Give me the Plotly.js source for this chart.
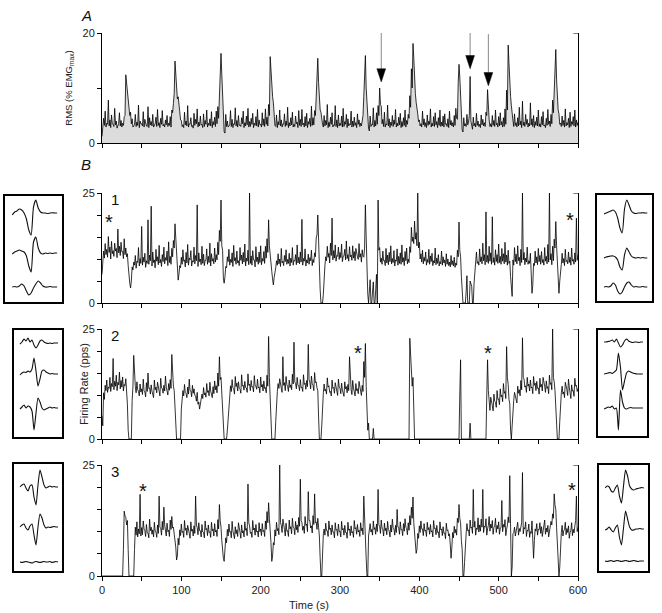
<!DOCTYPE html>
<html>
<head>
<meta charset="utf-8">
<script src="https://cdn.plot.ly/plotly-3.0.1.min.js"></script>
<style>
  html, body { margin: 0; padding: 0; background: #fff; }
  #chart { width: 662px; height: 613px; }
</style>
</head>
<body>
<div id="chart"></div>
<script>
// Each trace is read off the picture as two samples per 2 s bin:
// "...A" at the even second (t = 0, 2, ... 600), "...B" at the odd one (t = 1, 3, ... 599)
const dt = 2;

// A: RMS EMG (% EMGmax)
const rmsA = [
  1.2, 4.5, 5.8, 3.6, 7.8, 4.2, 5.1, 3.4, 6.3, 4.0, 3.2, 5.5, 4.1, 3.6, 4.8, 12.4, 9.8, 7.5, 5.6, 4.4, 3.1, 5.2, 3.8, 6.9, 4.0,
  3.5, 5.7, 4.3, 3.1, 6.6, 4.6, 3.9, 5.2, 3.3, 4.7, 6.1, 3.7, 4.5, 5.9, 3.4, 4.2, 5.0, 3.6, 4.8, 6.0, 7.2, 14.9, 10.3, 8.4, 5.7,
  4.1, 3.3, 5.6, 4.0, 6.8, 3.5, 4.6, 3.2, 5.4, 4.3, 6.2, 3.8, 4.9, 3.4, 5.3, 4.1, 6.0, 3.6, 4.4, 5.7, 3.9, 4.7, 5.8, 6.6, 9.0,
  16.3, 8.8, 2.0, 5.2, 4.0, 3.2, 5.9, 4.3, 3.5, 6.4, 4.1, 5.0, 3.3, 4.6, 5.8, 3.7, 4.9, 6.3, 3.9, 4.5, 5.4, 3.6, 4.8, 6.1, 4.2,
  3.4, 5.5, 4.4, 6.2, 4.7, 7.0, 15.7, 9.8, 7.3, 3.2, 5.1, 3.9, 6.0, 4.2, 3.5, 5.3, 4.0, 6.5, 3.7, 4.6, 5.6, 3.4, 4.9, 3.8, 5.9,
  4.3, 6.1, 3.6, 4.8, 5.4, 3.9, 4.5, 6.7, 4.6, 5.9, 9.4, 15.4, 8.2, 5.6, 3.4, 5.0, 4.1, 7.0, 3.8, 4.7, 5.5, 3.3, 6.8, 4.2, 5.1,
  3.6, 4.9, 6.3, 3.9, 5.2, 4.4, 3.5, 5.8, 4.0, 4.7, 3.7, 5.3, 4.2, 3.6, 4.8, 8.5, 15.9, 7.2, 2.6, 4.9, 3.4, 6.4, 4.1, 5.5, 6.8,
  10.0, 6.7, 4.3, 5.6, 3.5, 6.9, 4.4, 3.8, 5.0, 4.2, 6.1, 3.6, 4.7, 5.4, 3.9, 4.6, 6.0, 4.1, 5.2, 8.6, 13.5, 18.1, 11.0, 7.4, 5.3,
  4.2, 3.5, 5.8, 4.4, 3.7, 5.1, 4.0, 6.2, 3.6, 4.8, 5.5, 3.9, 4.6, 6.0, 3.8, 4.9, 5.3, 3.5, 4.4, 5.8, 4.1, 3.7, 5.0, 6.3, 4.3,
  14.3, 8.9, 2.4, 4.6, 3.5, 5.2, 3.8, 12.1, 3.2, 4.7, 3.6, 5.4, 4.0, 3.4, 5.1, 4.3, 3.7, 5.6, 9.7, 4.2, 3.5, 5.0, 4.1, 6.0, 3.6,
  4.8, 5.5, 3.9, 4.6, 6.2, 9.6, 17.8, 10.4, 6.8, 4.1, 5.3, 3.7, 4.6, 6.5, 4.0, 7.6, 3.8, 5.2, 4.3, 3.6, 7.3, 4.4, 5.0, 3.9, 4.7,
  6.0, 3.5, 4.8, 5.7, 3.3, 4.5, 6.1, 4.0, 5.2, 7.8, 11.0, 17.0, 8.4, 5.3, 3.6, 4.9, 4.1, 6.2, 3.7, 4.5, 5.6, 3.9, 4.8, 6.0, 4.2,
  3.8
];
const rmsB = [
  3.0, 3.2, 2.9, 3.4, 3.1, 2.8, 3.5, 3.0, 3.3, 2.7, 3.6, 3.1, 2.9, 3.2, 5.0, 11.0, 7.8, 5.0, 3.5, 2.9, 3.4, 3.0, 3.2, 2.8, 3.5,
  3.1, 2.9, 3.4, 3.0, 2.8, 3.3, 3.1, 2.9, 3.5, 3.0, 3.2, 2.8, 3.4, 3.1, 2.9, 3.3, 3.0, 3.2, 2.9, 5.5, 9.0, 12.5, 8.0, 6.0, 4.2,
  3.0, 2.8, 3.3, 3.1, 2.9, 3.4, 3.0, 2.7, 3.2, 3.5, 2.9, 3.1, 3.3, 2.8, 3.0, 3.4, 2.9, 3.2, 3.1, 2.8, 3.3, 3.0, 3.5, 4.5, 12.0,
  12.5, 4.5, 1.8, 3.0, 2.9, 3.3, 3.0, 2.8, 3.4, 3.1, 2.9, 3.2, 3.0, 3.5, 2.8, 3.1, 3.3, 2.9, 3.0, 3.4, 2.8, 3.2, 3.1, 2.9, 3.3,
  2.9, 3.2, 3.0, 3.4, 3.1, 5.0, 12.5, 8.5, 4.5, 3.0, 2.8, 3.3, 3.1, 2.9, 3.4, 3.0, 3.2, 2.8, 3.1, 3.3, 2.9, 3.0, 3.5, 2.8, 3.2,
  3.0, 3.3, 2.9, 3.1, 2.8, 3.4, 3.0, 3.2, 3.3, 5.0, 12.0, 11.0, 6.0, 3.8, 2.9, 3.1, 3.3, 2.8, 3.0, 3.4, 2.9, 3.2, 3.0, 2.8, 3.1,
  3.2, 2.9, 3.0, 3.4, 2.8, 3.1, 3.3, 2.9, 3.0, 3.2, 2.8, 3.4, 3.0, 3.1, 5.0, 12.5, 10.0, 4.0, 2.2, 3.0, 3.3, 2.9, 3.1, 3.4, 5.0,
  7.0, 3.5, 3.0, 2.9, 3.3, 3.1, 2.8, 3.2, 3.0, 3.4, 2.9, 3.1, 3.3, 2.8, 3.0, 3.2, 2.9, 3.4, 4.5, 6.5, 10.0, 15.5, 9.0, 5.5, 3.9,
  3.1, 2.9, 3.3, 3.0, 2.8, 3.2, 3.4, 2.9, 3.1, 3.0, 3.3, 2.8, 3.2, 3.0, 3.1, 2.9, 3.4, 3.0, 2.8, 3.3, 3.1, 2.9, 3.2, 4.5, 11.0,
  12.0, 4.0, 2.0, 3.1, 3.0, 3.3, 5.0, 4.0, 2.5, 3.1, 2.9, 3.2, 3.0, 2.8, 3.3, 3.1, 3.0, 5.0, 5.5, 3.0, 2.9, 3.2, 3.0, 3.3, 2.9,
  3.1, 3.3, 2.9, 3.0, 3.4, 6.0, 14.5, 8.5, 4.8, 3.0, 3.2, 2.9, 3.1, 3.3, 2.8, 3.2, 3.0, 3.4, 2.9, 3.1, 3.3, 3.0, 2.8, 3.2, 3.1,
  3.0, 2.9, 3.3, 3.1, 2.8, 3.2, 3.4, 3.0, 3.5, 5.5, 14.0, 11.5, 6.0, 3.4, 3.0, 3.2, 2.9, 3.1, 3.3, 2.8, 3.0, 3.4, 3.1, 2.9, 3.2
];

// B: firing rates (pps) of units 1-3
const rate1A = [
  6.5, 11.8, 13.5, 12.2, 15.1, 12.7, 14.0, 11.9, 13.6, 12.4, 16.8, 12.9, 13.8, 11.7, 14.6, 12.5, 11.2, 6.0, 3.4, 8.2, 9.3, 10.8, 9.5, 12.6, 10.1,
  17.4, 10.4, 11.3, 9.6, 18.9, 10.9, 22.0, 11.6, 9.8, 12.2, 10.5, 13.1, 9.9, 11.0, 12.7, 10.3, 11.8, 13.9, 10.6, 12.4, 14.2, 18.0, 9.7, 5.2, 8.5,
  10.4, 12.1, 9.8, 11.5, 13.3, 10.2, 11.9, 9.6, 12.7, 10.8, 22.3, 11.4, 10.0, 12.9, 11.1, 9.7, 12.3, 10.6, 13.6, 11.2, 10.1, 12.5, 11.0, 13.8, 16.5,
  23.4, 12.0, 4.5, 8.3, 10.5, 12.2, 9.9, 11.4, 13.1, 10.3, 11.8, 9.6, 12.6, 10.9, 11.5, 13.4, 10.2, 12.0, 25.0, 10.7, 11.9, 9.8, 12.8, 10.4, 11.6,
  13.0, 10.1, 11.7, 12.9, 14.6, 18.9, 11.5, 7.2, 4.1, 7.9, 9.6, 11.2, 10.0, 12.4, 9.5, 10.8, 12.1, 9.9, 11.3, 10.2, 12.6, 9.7, 11.0, 13.2, 10.4,
  11.6, 19.0, 10.1, 12.3, 9.8, 11.1, 10.3, 12.0, 9.9, 11.4, 14.8, 20.0, 8.0, 0, 0, 6.8, 10.5, 12.9, 11.3, 13.6, 19.3, 11.9, 13.2, 10.8, 12.7,
  11.5, 13.4, 10.6, 12.2, 14.1, 11.0, 12.8, 10.9, 13.0, 11.7, 12.4, 10.5, 13.5, 11.2, 12.1, 10.4, 22.3, 6.0, 0, 5.3, 0, 4.8, 0, 6.5, 23.4,
  12.6, 10.2, 11.8, 9.7, 12.4, 10.9, 11.5, 13.0, 10.1, 11.9, 9.8, 12.3, 10.6, 11.4, 13.2, 10.3, 11.7, 12.5, 10.0, 12.8, 17.2, 15.0, 18.6, 16.0, 25.0,
  13.8, 11.2, 12.0, 10.4, 11.6, 9.9, 12.2, 10.7, 11.3, 9.6, 12.5, 10.2, 11.0, 9.4, 11.8, 10.5, 9.8, 11.2, 10.0, 9.3, 10.8, 9.6, 10.4, 9.1, 12.0,
  18.4, 10.5, 3.0, 0, 0, 6.2, 0, 5.0, 3.8, 0, 7.5, 11.6, 9.4, 12.3, 10.5, 13.6, 11.0, 20.7, 10.8, 12.9, 11.4, 19.6, 10.3, 12.1, 11.0,
  13.4, 10.6, 12.4, 11.2, 13.8, 10.9, 12.0, 9.5, 3.0, 9.8, 12.6, 11.1, 13.0, 10.4, 12.2, 25.0, 11.5, 10.2, 12.7, 9.6, 11.3, 2.2, 9.0, 11.8, 10.5,
  12.4, 10.8, 11.7, 9.9, 12.6, 10.6, 13.3, 25.0, 11.2, 12.9, 14.5, 18.5, 8.0, 2.2, 8.6, 11.3, 10.1, 12.2, 9.7, 11.6, 10.4, 12.5, 9.9, 11.4, 19.3,
  11.0
];
const rate1B = [
  9.5, 10.2, 11.0, 10.4, 11.5, 10.0, 11.2, 10.6, 11.8, 10.3, 11.4, 10.8, 11.6, 10.1, 11.0, 10.5, 8.5, 4.5, 5.0, 7.5, 8.6, 7.9, 9.2, 8.4, 9.0,
  8.6, 9.3, 8.1, 9.0, 8.8, 9.6, 8.4, 9.2, 8.0, 9.5, 8.7, 9.1, 8.3, 9.4, 8.9, 9.7, 8.5, 9.2, 8.8, 10.5, 12.5, 14.0, 6.0, 6.5, 8.0,
  8.8, 9.5, 8.2, 9.1, 8.6, 9.8, 8.4, 9.3, 8.9, 9.6, 8.3, 9.4, 8.7, 9.0, 8.5, 9.7, 8.8, 9.2, 8.4, 9.5, 8.9, 9.3, 9.8, 11.0, 14.0,
  13.0, 5.5, 6.0, 8.0, 9.4, 8.6, 9.2, 8.3, 9.6, 8.8, 9.1, 8.5, 9.7, 8.9, 9.3, 8.4, 9.5, 8.7, 9.0, 8.6, 9.8, 8.2, 9.4, 8.8, 9.2,
  8.7, 9.5, 9.0, 10.2, 11.5, 13.0, 9.5, 5.5, 5.8, 8.0, 8.6, 8.9, 8.3, 9.1, 8.5, 9.4, 8.8, 9.0, 8.4, 9.2, 8.6, 9.5, 8.7, 9.1, 8.9,
  9.3, 8.6, 9.5, 8.4, 9.1, 8.8, 9.6, 8.5, 9.2, 10.5, 15.5, 12.0, 3.0, 0, 2.0, 8.5, 9.6, 10.4, 9.1, 10.8, 9.8, 10.2, 9.5, 10.6, 9.9,
  10.3, 9.4, 10.7, 9.8, 10.1, 9.5, 10.5, 9.7, 10.2, 9.6, 10.8, 9.9, 10.4, 9.3, 10.6, 12.5, 15.0, 2.0, 3.5, 0, 2.5, 0, 3.0, 0, 12.0,
  9.3, 8.8, 9.6, 8.5, 9.1, 8.7, 9.4, 8.9, 9.2, 8.4, 9.5, 8.6, 9.0, 8.8, 9.3, 8.5, 9.6, 8.9, 9.2, 11.5, 14.0, 13.5, 14.5, 13.0, 12.5,
  10.0, 9.3, 8.9, 9.5, 8.6, 9.2, 8.8, 9.4, 8.5, 9.1, 8.7, 9.0, 8.4, 8.9, 8.6, 9.1, 8.3, 8.8, 8.5, 8.2, 8.7, 8.4, 8.1, 8.6, 10.5,
  12.0, 6.0, 0, 0, 2.5, 0, 0, 4.0, 0, 4.5, 8.5, 9.0, 8.6, 9.4, 8.9, 9.6, 8.7, 9.3, 9.0, 9.5, 8.8, 9.2, 8.6, 9.4, 9.0,
  9.2, 8.8, 9.5, 8.9, 9.3, 8.6, 9.0, 6.0, 1.5, 8.6, 9.4, 8.9, 9.6, 8.5, 9.2, 9.8, 8.7, 9.3, 8.8, 9.0, 5.0, 4.0, 8.5, 9.1, 8.7,
  9.4, 8.8, 9.2, 8.6, 9.5, 8.9, 9.3, 9.8, 8.7, 9.6, 12.5, 13.0, 3.5, 5.0, 8.8, 9.1, 8.5, 9.4, 8.9, 9.2, 8.6, 9.5, 8.8, 9.3, 9.7
];
const rate2A = [
  5.3, 10.5, 12.2, 13.4, 11.8, 14.0, 12.6, 18.3, 13.1, 14.5, 12.9, 15.2, 13.3, 14.1, 12.4, 13.7, 8.0, 0, 0, 8.8, 19.0, 11.9, 13.0, 10.8, 12.5,
  11.4, 13.6, 10.7, 12.8, 15.0, 11.6, 12.3, 10.2, 13.4, 11.8, 12.9, 10.9, 13.8, 11.5, 12.2, 14.3, 11.1, 12.6, 13.5, 19.2, 12.0, 7.5, 0, 0, 0,
  6.8, 11.0, 12.4, 10.3, 11.8, 13.6, 10.9, 12.2, 11.4, 9.8, 10.6, 8.4, 7.7, 10.2, 11.7, 10.5, 12.6, 11.0, 12.9, 10.4, 11.9, 13.2, 12.1, 15.0, 18.7,
  14.0, 6.0, 0, 0, 2.0, 8.7, 12.1, 13.5, 11.4, 14.2, 12.7, 13.0, 11.3, 14.6, 12.2, 13.1, 11.6, 14.8, 12.5, 13.3, 11.9, 14.4, 12.0, 13.6, 11.8,
  14.1, 12.4, 13.2, 11.7, 14.5, 23.3, 10.0, 0, 0, 0, 9.5, 12.6, 13.7, 11.5, 18.7, 12.8, 14.2, 11.9, 13.4, 12.3, 14.7, 22.0, 12.6, 14.0, 12.1,
  13.5, 11.8, 14.6, 12.7, 13.3, 21.5, 12.9, 14.3, 12.2, 15.1, 13.0, 11.0, 0, 0, 8.0, 12.5, 11.3, 13.9, 12.1, 10.8, 13.4, 11.7, 12.8, 10.9, 13.6,
  11.5, 12.7, 10.6, 13.0, 11.9, 12.4, 18.7, 11.2, 13.3, 10.8, 12.6, 11.4, 13.1, 10.9, 12.2, 17.6, 21.7, 6.0, 3.6, 0, 0, 2.4, 0, 0, 0,
  0, 0, 0, 0, 0, 0, 0, 0, 0, 0, 0, 0, 0, 0, 0, 0, 0, 0, 0, 22.9, 16.8, 14.0, 0, 0, 0,
  0, 0, 0, 0, 0, 0, 0, 0, 0, 0, 0, 0, 0, 0, 0, 0, 0, 0, 0, 0, 0, 0, 0, 0, 0,
  0, 18.0, 0, 0, 0, 0, 0, 3.6, 0, 0, 0, 0, 0, 0, 0, 0, 0, 0, 18.0, 8.0, 9.5, 7.6, 10.2, 8.3, 11.0,
  9.1, 11.4, 10.0, 12.6, 10.8, 21.0, 12.4, 8.0, 0, 7.5, 10.6, 9.4, 12.0, 11.2, 13.3, 23.0, 13.6, 12.1, 14.0, 12.5, 13.4, 11.8, 14.2, 12.7, 13.1,
  11.6, 13.8, 12.4, 14.0, 12.0, 13.2, 11.9, 14.5, 12.8, 25.0, 13.0, 8.0, 0, 0, 9.8, 12.0, 10.7, 12.9, 11.2, 13.6, 10.5, 12.3, 11.0, 13.8, 12.2,
  11.5
];
const rate2B = [
  3.0, 9.0, 11.0, 10.6, 11.5, 10.8, 11.9, 11.2, 12.0, 11.0, 12.3, 11.4, 11.8, 10.9, 12.1, 11.0, 2.0, 0, 0, 12.0, 13.5, 10.5, 11.2, 9.8, 10.7,
  10.1, 11.0, 9.6, 10.8, 11.5, 10.2, 10.9, 9.4, 11.2, 10.5, 11.0, 9.8, 11.6, 10.4, 10.9, 11.8, 10.0, 11.1, 11.5, 13.5, 11.0, 3.0, 0, 0, 0,
  9.0, 9.8, 10.5, 9.4, 10.2, 11.0, 9.6, 10.4, 9.9, 8.6, 7.9, 6.8, 8.5, 9.2, 10.0, 9.5, 10.6, 9.8, 10.9, 9.4, 10.3, 11.2, 10.5, 12.0, 13.5,
  10.0, 2.0, 0, 0, 5.0, 10.5, 10.8, 11.6, 10.2, 11.9, 10.9, 11.5, 10.4, 12.0, 11.1, 11.7, 10.6, 12.2, 11.0, 11.8, 10.7, 12.1, 11.3, 11.6, 10.5,
  11.8, 10.9, 11.5, 10.5, 12.0, 14.0, 4.0, 0, 0, 4.0, 10.8, 11.5, 11.9, 10.6, 12.2, 11.0, 12.4, 10.8, 11.7, 11.2, 12.5, 13.0, 11.4, 12.2, 11.0,
  11.7, 10.8, 12.4, 11.3, 11.9, 13.5, 11.4, 12.6, 11.0, 12.8, 11.6, 5.0, 0, 3.0, 10.5, 10.9, 10.2, 11.8, 10.6, 9.8, 11.5, 10.4, 11.1, 9.9, 11.8,
  10.3, 11.2, 9.7, 11.4, 10.5, 11.0, 12.5, 10.1, 11.6, 9.8, 11.0, 10.3, 11.5, 9.9, 10.8, 14.0, 12.0, 2.0, 0, 0, 0, 0, 0, 0, 0,
  0, 0, 0, 0, 0, 0, 0, 0, 0, 0, 0, 0, 0, 0, 0, 0, 0, 0, 0, 18.0, 12.0, 5.0, 0, 0, 0,
  0, 0, 0, 0, 0, 0, 0, 0, 0, 0, 0, 0, 0, 0, 0, 0, 0, 0, 0, 0, 0, 0, 0, 0, 0,
  10.0, 0, 0, 0, 0, 0, 0, 0, 0, 0, 0, 0, 0, 0, 0, 0, 0, 10.0, 11.0, 6.5, 7.8, 6.4, 8.6, 7.2, 9.0,
  7.8, 9.6, 8.5, 10.4, 9.2, 14.0, 9.0, 2.0, 3.0, 8.8, 9.6, 8.2, 10.4, 9.8, 11.2, 14.0, 11.8, 10.6, 12.0, 10.9, 11.6, 10.3, 12.2, 11.0, 11.5,
  10.2, 11.8, 10.9, 12.1, 10.6, 11.5, 10.3, 12.4, 11.2, 14.0, 11.0, 3.0, 0, 4.0, 10.5, 10.2, 9.4, 11.3, 9.9, 11.8, 9.2, 10.9, 9.7, 12.0, 10.8
];
const rate3A = [
  0, 0, 0, 0, 0, 0, 0, 0, 0, 0, 0, 0, 0, 0, 14.6, 13.2, 12.5, 0, 0, 0, 0, 11.0, 12.2, 10.6, 18.4,
  10.9, 12.4, 10.2, 11.6, 9.7, 12.8, 11.0, 10.4, 12.1, 9.9, 11.5, 18.0, 10.8, 12.3, 15.5, 10.6, 11.9, 10.3, 12.6, 13.4, 11.0, 9.2, 3.6, 8.5, 10.4,
  11.7, 10.1, 12.5, 10.8, 11.4, 9.6, 12.2, 10.5, 11.3, 18.0, 10.9, 12.0, 10.2, 11.6, 9.8, 12.4, 10.7, 11.5, 10.0, 12.1, 10.6, 11.8, 10.3, 12.7, 16.1,
  11.0, 5.5, 3.3, 8.6, 10.5, 11.7, 10.0, 12.3, 9.6, 11.1, 10.4, 12.0, 9.8, 11.5, 10.2, 12.2, 10.7, 20.7, 11.3, 9.9, 12.5, 10.8, 11.6, 10.1, 12.0,
  10.6, 11.8, 10.3, 12.4, 14.5, 16.5, 11.0, 3.3, 7.5, 10.4, 12.1, 10.7, 25.0, 11.4, 12.8, 10.5, 11.9, 10.2, 12.6, 11.1, 13.0, 10.8, 12.3, 11.5, 13.2,
  21.8, 12.0, 11.2, 13.4, 11.7, 19.0, 12.5, 11.3, 13.6, 18.5, 12.2, 13.0, 9.0, 0, 8.2, 10.6, 11.9, 10.2, 12.4, 10.8, 11.5, 9.9, 12.0, 10.5, 11.7,
  10.1, 12.3, 10.7, 11.4, 9.8, 12.1, 10.6, 11.3, 10.0, 12.5, 10.9, 11.6, 10.3, 12.0, 10.8, 18.0, 9.5, 0, 9.0, 11.8, 10.5, 12.4, 10.9, 11.7, 19.5,
  11.2, 12.6, 10.4, 11.9, 10.8, 12.3, 10.1, 11.5, 12.8, 10.6, 11.4, 15.0, 10.9, 12.2, 10.5, 11.8, 12.9, 10.7, 12.0, 13.6, 15.5, 17.8, 9.0, 5.1, 9.6,
  11.3, 12.4, 10.6, 11.8, 10.3, 12.1, 10.9, 11.6, 10.2, 12.5, 10.8, 11.4, 9.9, 12.2, 10.6, 11.1, 9.7, 11.9, 10.4, 9.5, 4.0, 9.8, 11.2, 10.5, 13.0,
  16.1, 12.0, 6.0, 0, 7.5, 11.8, 10.4, 12.6, 11.0, 19.5, 12.3, 10.8, 13.1, 11.5, 12.8, 19.5, 11.2, 12.9, 10.6, 13.4, 11.7, 12.5, 10.9, 13.0, 11.4,
  12.2, 10.8, 17.0, 11.6, 12.7, 10.5, 13.3, 22.6, 0, 9.5, 11.0, 10.4, 12.1, 10.7, 11.5, 23.3, 10.9, 12.2, 10.3, 11.7, 10.0, 12.4, 4.0, 10.6, 11.8,
  10.5, 12.0, 11.1, 10.2, 12.6, 10.8, 11.4, 10.1, 12.3, 14.0, 18.5, 15.0, 8.0, 0, 9.0, 11.4, 10.2, 12.1, 10.7, 11.3, 9.8, 12.0, 10.5, 11.2, 18.0,
  11.0
];
const rate3B = [
  0, 0, 0, 0, 0, 0, 0, 0, 0, 0, 0, 0, 0, 6.0, 13.5, 11.5, 6.0, 0, 0, 0, 6.0, 9.2, 8.8, 9.5, 9.0,
  9.3, 10.6, 8.9, 9.8, 8.6, 10.2, 9.4, 8.8, 10.1, 8.7, 9.6, 11.0, 9.2, 10.4, 11.5, 9.0, 10.0, 8.9, 10.5, 10.8, 9.4, 6.5, 4.5, 7.0, 9.1,
  9.8, 8.7, 10.3, 9.2, 9.7, 8.5, 10.1, 9.0, 9.6, 11.5, 9.3, 10.2, 8.8, 9.9, 8.6, 10.4, 9.1, 9.8, 8.7, 10.2, 9.0, 9.9, 8.9, 10.6, 12.5,
  8.0, 4.0, 5.5, 7.5, 9.0, 9.9, 8.6, 10.2, 8.4, 9.5, 8.9, 10.1, 8.5, 9.7, 8.8, 10.3, 9.1, 12.0, 9.6, 8.7, 10.4, 9.2, 9.9, 8.8, 10.0,
  9.1, 10.0, 8.9, 10.5, 12.0, 13.0, 7.5, 4.5, 7.0, 9.0, 10.2, 9.3, 12.0, 9.8, 10.9, 9.0, 10.1, 8.9, 10.6, 9.5, 11.0, 9.3, 10.4, 9.8, 11.2,
  12.5, 10.3, 9.6, 11.4, 10.0, 12.5, 10.8, 9.7, 11.6, 12.0, 10.5, 11.0, 4.0, 0, 9.5, 9.2, 10.2, 8.9, 10.5, 9.3, 9.9, 8.6, 10.3, 9.1, 10.0,
  8.8, 10.4, 9.2, 9.8, 8.5, 10.3, 9.1, 9.7, 8.7, 10.6, 9.4, 9.9, 8.9, 10.2, 9.3, 11.5, 4.0, 0, 10.0, 9.9, 9.2, 10.5, 9.4, 10.0, 11.5,
  9.6, 10.8, 9.0, 10.2, 9.3, 10.5, 8.8, 9.9, 10.9, 9.2, 9.8, 11.0, 9.4, 10.4, 9.1, 10.1, 11.0, 9.3, 10.3, 11.5, 13.0, 12.0, 6.0, 6.0, 8.5,
  9.8, 10.6, 9.1, 10.1, 8.9, 10.4, 9.4, 9.9, 8.8, 10.7, 9.3, 9.8, 8.6, 10.4, 9.1, 9.6, 8.4, 10.2, 9.0, 7.0, 6.5, 8.6, 9.7, 9.2, 12.0,
  13.0, 8.0, 0, 3.0, 9.5, 10.2, 9.0, 10.8, 9.6, 11.0, 9.2, 10.5, 9.9, 10.1, 11.0, 9.8, 11.0, 9.2, 11.4, 10.1, 10.8, 9.4, 11.2, 9.8, 10.6,
  9.4, 10.9, 10.0, 11.0, 9.1, 11.4, 12.0, 5.0, 2.0, 9.8, 9.0, 10.5, 9.2, 10.0, 12.0, 9.5, 10.6, 8.9, 10.1, 8.7, 9.6, 5.5, 8.0, 10.1, 9.2,
  10.4, 9.6, 8.9, 10.8, 9.4, 9.9, 8.8, 10.5, 11.5, 13.0, 16.0, 11.0, 3.0, 2.0, 9.8, 9.0, 10.4, 9.3, 9.8, 8.5, 10.3, 9.1, 9.7, 12.5, 10.0
];

// arrows in panel A
const arrowT = [352, 464, 487];
const arrowTop = [20.5, 23.5, 19.8];
const arrowTip = [11.1, 13.5, 10.4];

// unit numbers and asterisks in panel B
const unitLabels = ['1', '2', '3'];
const starT = [[9, 590], [323, 487], [52, 592]];
const starV = [[19.5, 20.0], [20.7, 20.7], [20.2, 20.5]];

const xTicks = [0, 50, 100, 150, 200, 250, 300, 350, 400, 450, 500, 550, 600];
const xTickText = ['0', '', '100', '', '200', '', '300', '', '400', '', '500', '', '600'];

// spike waveforms (start / end of recording), 3 channels each
const waveB1L = [
  [-2, 1, 2, 4, 3, 0, -6, -17, -22, 6, 13, 5, 1, 0, 0, -0.5, 0, 0.3, 0, 0],
  [-2, 0, 1, 2, 1, 0, -4, -14, -20, 10, 15, 4, -1, -2, -1, -1.5, -1, -1.5, -1, -1],
  [0, 0.5, 0, 1, 3, 1, -4, -8, -6, -1, 3, 6, 4, 1, 0, 0, 0.5, 0, 0, 0]
];
const waveB1R = [
  [-1, 0, 1, 2, 3, 1, -5, -15, -20, 4, 13, 8, 2, 0, -0.5, 0, 0, 0.3, 0, 0],
  [-1, 0, 0.5, 1, 1, 0, -3, -10, -13, 2, 9, 5, 1, -0.5, -1, -0.5, -1, -0.5, -1, -1],
  [0, 0.5, 0, 1, 4, 2, -4, -7, -5, 0, 4, 5, 2, 0, 0.5, 0, 0, 0.5, 0, 0]
];
const waveB2L = [
  [-1, 1, 4, 2, 5, 1, 3, -2, -5, -2, 2, 3, 1, 0, -0.5, 0, -0.5, 0, 0, 0],
  [-2, 0, 1, 0.5, 2, 1, 4, 15, 2, -13, -6, 2, 3, 1, 0, -1, -0.5, -1, -1, -1],
  [-1, 1, 3, 0, 2, 1, -3, -22, -5, 10, 6, 0, -2, -1, 0, 1, 0, 0.5, 0, 0]
];
const waveB2R = [
  [0, 0, 0.5, 1, 2, 0, 3, -1, -5, -3, 1, 3, 1, 0, -0.5, 0, 0, -0.5, 0, 0],
  [-1, -0.5, 0, 0.5, -0.5, 1, 3, 20, 6, -17, -8, 0, 2, 1, 0, -0.5, -1, -1, -1, -1],
  [-1, 0, 1, 0.5, 2, -1, 0, -22, 18, 6, 0, -1, 0, 0.5, 0, 0, 0, 0, 0, 0]
];
const waveB3L = [
  [0, 2, 3, -1, -4, 1, 2, -10, -18, 2, 17, 10, 2, -1, 0, 1, 0, 0.5, 0, 0],
  [0, 2, 3, -1, -3, 1, 3, -8, -18, 0, 13, 9, 2, -1, 0, -0.5, 0, 0.5, 0, 0],
  [0, -0.5, 0, 0.5, 0, -0.5, -1, 0, 0.5, 0, -0.5, 0, 0.5, 0, 0, 0.5, -0.5, 0, 0.5, 0]
];
const waveB3R = [
  [0, 2, 1, -3, -4, 0, 3, -8, -15, 2, 18, 12, 2, -1, -2, -1, -0.5, 0, 0.5, 0],
  [-1, 0, 2, -1, -3, 1, 4, -8, -16, 1, 18, 10, 2, -1, -1, 0, 0, 0.5, 0, 0],
  [0, -0.5, 0, 0.5, -0.5, 0, 0.5, 0, -0.5, 0, 0.5, 0, -0.5, 0, 0.5, 0, -0.5, 0, 0, 0]
];

// merge the even- and odd-second samples into one trace
function mergeSamples(evenVals, oddVals) {
  const x = [], y = [];
  evenVals.forEach((v, i) => {
    x.push(i * dt); y.push(v);
    if (i < oddVals.length) { x.push(i * dt + dt / 2); y.push(oddVals[i]); }
  });
  return { x, y };
}

// ---- layout helpers (pixel positions in the 662x613 figure) ----
const W = 662, H = 613;
const FONT = 'Liberation Sans, Arial, sans-serif';
const px = (x) => x / W;
const py = (y) => 1 - y / H;
const xDom = [px(102), px(578)];
const yDom = (top, bot) => [py(bot), py(top)];

const axBase = {
  showline: true, linecolor: '#000', linewidth: 1,
  ticks: 'outside', ticklen: 4, tickwidth: 1, tickcolor: '#000',
  showgrid: false, zeroline: false, fixedrange: true,
  tickfont: { family: FONT, size: 11, color: '#222' }
};

const panels = [
  { data: mergeSamples(rmsA, rmsB), top: 33, bot: 143, ymax: 20, yt: [0, 10, 20], ytt: ['0', '', '20'] },
  { data: mergeSamples(rate1A, rate1B), top: 193, bot: 303, ymax: 25, yt: [0, 5, 10, 15, 20, 25], ytt: ['0', '', '', '', '', '25'] },
  { data: mergeSamples(rate2A, rate2B), top: 329, bot: 439, ymax: 25, yt: [0, 5, 10, 15, 20, 25], ytt: ['0', '', '', '', '', '25'] },
  { data: mergeSamples(rate3A, rate3B), top: 465, bot: 576, ymax: 25, yt: [0, 5, 10, 15, 20, 25], ytt: ['0', '', '', '', '', '25'] }
];

const layout = {
  width: W, height: H,
  margin: { l: 0, r: 0, t: 0, b: 0 },
  paper_bgcolor: '#fff', plot_bgcolor: 'rgba(0,0,0,0)',
  showlegend: false,
  font: { family: FONT, size: 11, color: '#222' },
  shapes: [], annotations: []
};
const traces = [];

panels.forEach((p, i) => {
  const n = i === 0 ? '' : String(i + 1);
  const last = i === panels.length - 1;
  layout['xaxis' + n] = Object.assign({}, axBase, {
    domain: xDom, range: [0, 600], anchor: 'y' + n,
    tickvals: xTicks, ticktext: xTickText, showticklabels: last
  });
  layout['yaxis' + n] = Object.assign({}, axBase, {
    domain: yDom(p.top, p.bot), range: [0, p.ymax], anchor: 'x' + n,
    tickvals: p.yt, ticktext: p.ytt, mirror: true
  });
  const tr = {
    x: p.data.x, y: p.data.y, xaxis: 'x' + n, yaxis: 'y' + n,
    type: 'scatter', mode: 'lines', line: { color: '#000', width: 0.8 },
    hoverinfo: 'skip'
  };
  if (i === 0) { tr.fill = 'tozeroy'; tr.fillcolor = '#dcdcdc'; }
  traces.push(tr);
  // small tick at top of the right spine
  layout.shapes.push({
    type: 'line', xref: 'x' + n, yref: 'y' + n,
    x0: 600, x1: 594, y0: p.ymax, y1: p.ymax, line: { color: '#000', width: 1 }
  });
});

// y title of panel A as an axis title (keeps the subscript in place)
layout.yaxis.title = {
  text: 'RMS (% EMG<sub>max</sub>)', standoff: 8,
  font: { family: FONT, size: 9.5, color: '#222' }
};
layout.yaxis.automargin = false;

// arrows in panel A: grey stem + black head
const headH = 2.4, headW = 5.5;
arrowT.forEach((t, i) => {
  const base = arrowTip[i] + headH;
  layout.shapes.push({
    type: 'line', xref: 'x', yref: 'y', x0: t, x1: t, y0: arrowTop[i], y1: base,
    line: { color: '#888', width: 1 }
  });
  layout.shapes.push({
    type: 'path', xref: 'x', yref: 'y',
    path: `M ${t - headW} ${base} L ${t + headW} ${base} L ${t} ${arrowTip[i]} Z`,
    fillcolor: '#000', line: { color: '#000', width: 0.5 }
  });
});

// unit numbers and asterisks
unitLabels.forEach((lab, i) => {
  const n = String(i + 2);
  layout.annotations.push({
    xref: 'x' + n, yref: 'y' + n, x: 16, y: 23.5, text: lab, showarrow: false,
    font: { family: FONT, size: 15, color: '#111' }
  });
  starT[i].forEach((t, k) => {
    layout.annotations.push({
      xref: 'x' + n, yref: 'y' + n, x: t, y: starV[i][k], text: '*', showarrow: false,
      yshift: -5, font: { family: FONT, size: 20, color: '#111' }
    });
  });
});

// panel letters and axis titles
layout.annotations.push(
  { xref: 'paper', yref: 'paper', x: px(79), y: py(5), text: '<i>A</i>', showarrow: false,
    font: { family: FONT, size: 15, color: '#111' } },
  { xref: 'paper', yref: 'paper', x: px(79), y: py(154), text: '<i>B</i>', showarrow: false,
    font: { family: FONT, size: 15, color: '#111' } },
  { xref: 'paper', yref: 'paper', x: px(76), y: py(384), text: 'Firing Rate (pps)', textangle: -90,
    showarrow: false, font: { family: FONT, size: 11, color: '#222' } },
  { xref: 'paper', yref: 'paper', x: px(309), y: 0, yanchor: 'bottom', text: 'Time (s)', showarrow: false,
    font: { family: FONT, size: 11, color: '#222' } }
);

// waveform insets: box in pixels [x0, y0, x1, y1], baselines in px from box top
const insets = [
  { box: [4, 195, 63, 303], base: [18, 57, 92], waves: waveB1L },
  { box: [596, 194, 653, 302], base: [19, 63, 93], waves: waveB1R },
  { box: [13, 329, 63, 438], base: [14, 44, 79], waves: waveB2L },
  { box: [597, 329, 648, 437], base: [13, 44, 79], waves: waveB2R },
  { box: [13, 463, 63, 572], base: [24, 64, 99], waves: waveB3L },
  { box: [598, 464, 649, 572], base: [24, 65, 97], waves: waveB3R }
];
insets.forEach((ins, i) => {
  const n = String(i + 5);
  const [x0, y0, x1, y1] = ins.box;
  layout['xaxis' + n] = { domain: [px(x0), px(x1)], range: [-3.5, 21.5], visible: false, fixedrange: true, anchor: 'y' + n };
  layout['yaxis' + n] = { domain: [py(y1), py(y0)], range: [-(y1 - y0), 0], visible: false, fixedrange: true, anchor: 'x' + n };
  ins.waves.forEach((w, k) => {
    traces.push({
      x: w.map((_, j) => j), y: w.map(v => v - ins.base[k]),
      xaxis: 'x' + n, yaxis: 'y' + n, type: 'scatter', mode: 'lines',
      line: { color: '#111', width: 1.1, shape: 'spline', smoothing: 0.6 }, hoverinfo: 'skip'
    });
  });
  layout.shapes.push({
    type: 'rect', xref: 'paper', yref: 'paper',
    x0: px(x0), x1: px(x1), y0: py(y1), y1: py(y0),
    line: { color: '#000', width: 2 }
  });
});

Plotly.newPlot('chart', traces, layout, { displayModeBar: false, staticPlot: true });
</script>
</body>
</html>
